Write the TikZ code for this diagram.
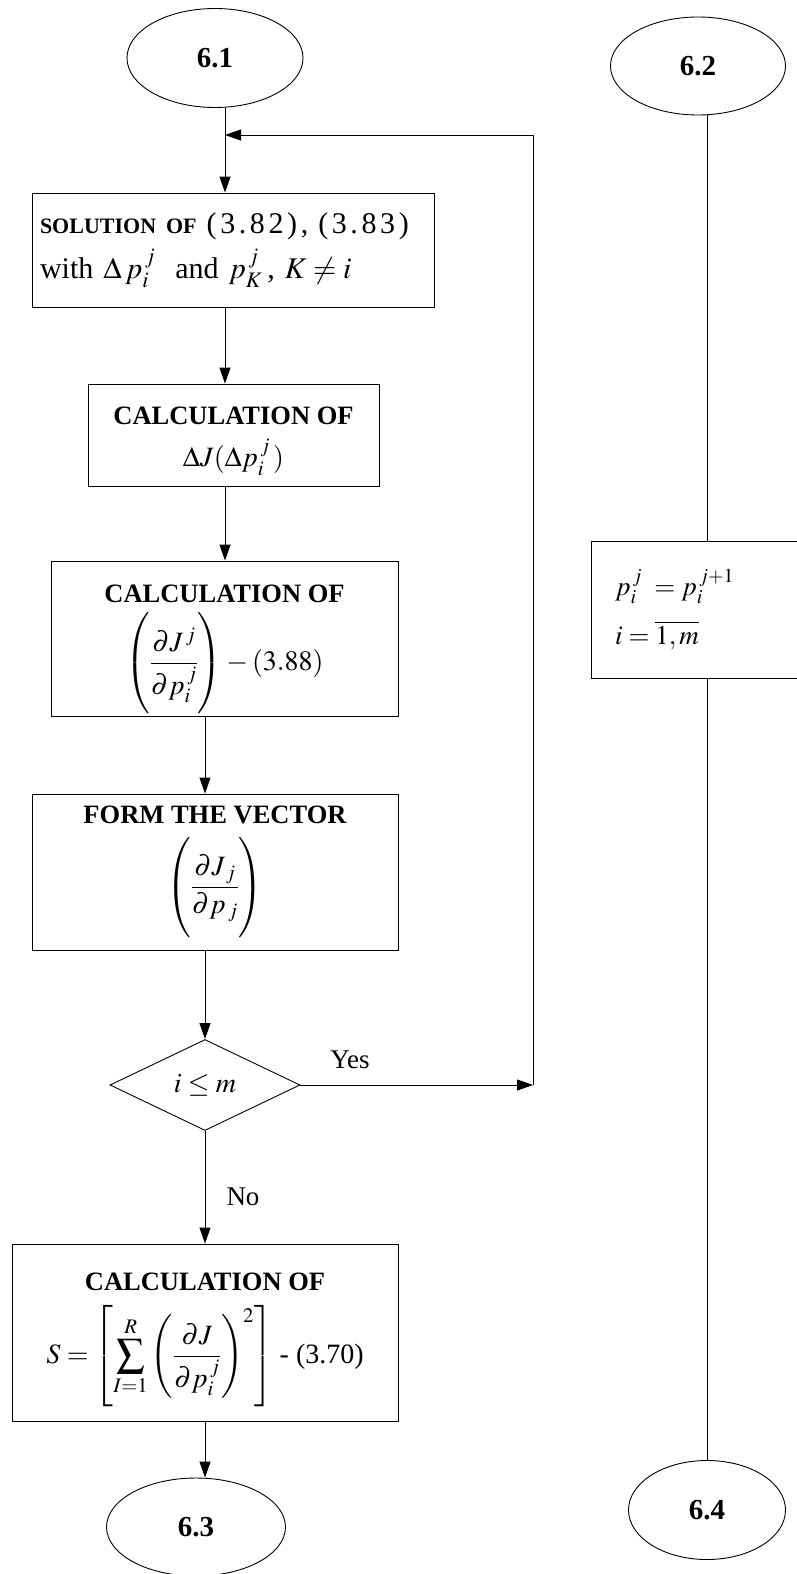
\documentclass[tikz,border=0pt]{standalone}
\usepackage{mathptmx}
\usepackage{fontspec}
\setmainfont{Liberation Serif}
\usetikzlibrary{shapes.geometric,arrows.meta}

\tikzset{
  conn/.style={ellipse, draw, line width=0.9pt, inner sep=0pt,
    font=\fontsize{29}{32}\selectfont\bfseries},
  procbox/.style={rectangle, draw, line width=0.9pt, align=center, inner sep=0pt,
    font=\fontsize{28}{30}\selectfont},
  decide/.style={diamond, draw, line width=0.9pt, inner sep=0pt, aspect=2,
    minimum width=190pt, minimum height=91pt, font=\fontsize{28}{30}\selectfont},
  lbl/.style={inner sep=0pt, font=\fontsize{27}{30}\selectfont},
  flow/.style={line width=0.9pt, -{Triangle[length=16pt,width=11pt]}},
  plain/.style={line width=0.9pt}
}
% heading line, optional height pushes the block down
\newcommand{\hd}[2][0pt]{{\fontsize{26.5}{30}\selectfont\bfseries\rule{0pt}{#1}#2}}
\newcommand{\tallstrut}{\rule[-1.45em]{0pt}{3.4em}}

\begin{document}
\begin{tikzpicture}[x=1pt, y=-1pt]
    \useasboundingbox (0,0) rectangle (797,1574);
    \clip (0,0) rectangle (797,1574);

    % connectors
    \node[conn, minimum width=176pt, minimum height=99pt] (c61) at (215,58) {6.1};
    \node[conn, minimum width=175pt, minimum height=98pt] (c62) at (698,66) {6.2};
    \node[conn, minimum width=179pt, minimum height=98pt] (c63) at (196,1527) {6.3};
    \node[conn, minimum width=157pt, minimum height=99pt] (c64) at (707,1510) {6.4};

    % left column
    \node[procbox, minimum width=402pt, minimum height=114pt, text width=386pt, align=left,
          font=\fontsize{30}{32}\selectfont] (sol) at (233,250)
        {{\fontsize{22}{24}\selectfont\bfseries SOLUTION OF} {\addfontfeature{LetterSpace=12}(3.82), (3.83)}\\[8pt]
         with\ $\Delta\, p_i^{\,j}$\ \ and\ $p_K^{\,j}$\,,\ $K\neq i$};
    \node[procbox, minimum width=291pt, minimum height=102pt] (calcdj) at (233.5,435)
        {\hd[30pt]{CALCULATION OF}\\[12pt] $\Delta J(\Delta p_i^{\,j}\,)$};
    \node[procbox, minimum width=347pt, minimum height=155pt] (calcgr) at (224.5,638.5)
        {\hd[39pt]{CALCULATION OF}\\[9pt] $\displaystyle\left(\tallstrut\frac{\partial J^{\,j}}{\partial p_i^{\,j}}\right) - (3.88)$};
    \node[procbox, minimum width=366pt, minimum height=156pt] (vec) at (215,872)
        {\hd{FORM THE VECTOR}\\[12pt] $\displaystyle\left(\tallstrut\frac{\partial J_{\,j}}{\partial p_{\,j}}\right)$};
    \node[decide] (dec) at (205,1085) {$i\leq m$};
    \node[procbox, minimum width=386pt, minimum height=177pt] (calcs) at (205,1332.5)
        {\hd[32pt]{CALCULATION OF}\\[14pt] $\displaystyle S=\left[\sum_{I=1}^{R}\left(\frac{\partial J}{\partial p_i^{\,j}}\right)^{2}\right]$ - (3.70)};

    % right column
    \node[procbox, minimum width=250pt, minimum height=137pt, text width=202pt, align=left,
          font=\fontsize{27}{30}\selectfont] (upd) at (716,609.5)
        {$p_i^{\,j}\;=p_i^{\,j+1}$\\[16pt] $i=\overline{1,m}$};

    \node[lbl] (yes) at (350,1060) {Yes};
    \node[lbl] (no) at (243,1197) {No};

    \coordinate (xa) at (225,0);
    \coordinate (xb) at (205,0);
    \coordinate (xr) at (707,0);
    \coordinate (back) at (225,135);
    \coordinate (turn) at (533,1085);

    \draw[flow] (c61.south -| xa) -- (sol.north -| xa);
    \draw[flow] (sol.south -| xa) -- (calcdj.north -| xa);
    \draw[flow] (calcdj.south -| xa) -- (calcgr.north -| xa);
    \draw[flow] (calcgr.south -| xb) -- (vec.north -| xb);
    \draw[flow] (vec.south -| xb) -- (dec.north);
    \draw[flow] (dec.south) -- (calcs.north -| xb);
    \draw[flow] (calcs.south -| xb) -- (c63.north -| xb);
    \draw[flow] (dec.east) -- (turn);
    \draw[flow] (turn) |- (back);
    \draw[plain] (c62.south -| xr) -- (upd.north -| xr);
    \draw[plain] (upd.south -| xr) -- (c64.north -| xr);
\end{tikzpicture}
\end{document}
